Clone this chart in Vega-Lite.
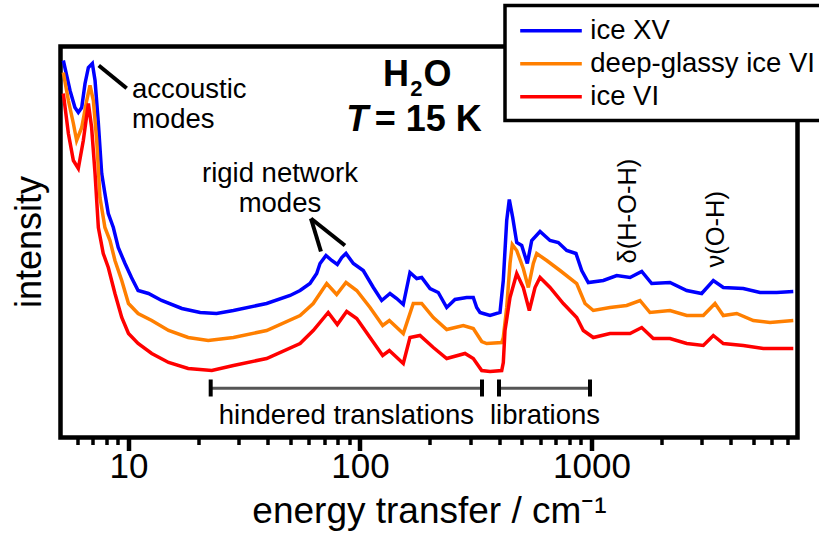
{
  "$schema": "https://vega.github.io/schema/vega-lite/v6.json",
  "width": 737,
  "height": 391,
  "autosize": {"type": "none"},
  "padding": {"left": 60.5, "top": 46.5, "right": 21.5, "bottom": 95.5},
  "background": "white",
  "config": {
    "font": "Liberation Sans",
    "view": {"stroke": "black", "strokeWidth": 4.5},
    "legend": {"strokeWidth": 3.5}
  },
  "datasets": {
    "spec": [
      {"E":5.23,"I":377,"s":"ice XV"},{"E":5.59,"I":347,"s":"ice XV"},{"E":5.87,"I":330,"s":"ice XV"},{"E":6.07,"I":325,"s":"ice XV"},{"E":6.28,"I":330,"s":"ice XV"},{"E":6.49,"I":354,"s":"ice XV"},{"E":6.71,"I":370,"s":"ice XV"},{"E":6.98,"I":374,"s":"ice XV"},{"E":7.17,"I":357,"s":"ice XV"},{"E":7.41,"I":314,"s":"ice XV"},{"E":7.66,"I":264,"s":"ice XV"},{"E":7.91,"I":244,"s":"ice XV"},{"E":8.18,"I":224,"s":"ice XV"},{"E":8.6,"I":210,"s":"ice XV"},{"E":9.03,"I":190,"s":"ice XV"},{"E":9.66,"I":174,"s":"ice XV"},{"E":10.3,"I":160,"s":"ice XV"},{"E":11,"I":147,"s":"ice XV"},{"E":12.2,"I":144,"s":"ice XV"},{"E":13.9,"I":137,"s":"ice XV"},{"E":17,"I":129,"s":"ice XV"},{"E":20.4,"I":125,"s":"ice XV"},{"E":24,"I":124,"s":"ice XV"},{"E":28.4,"I":127,"s":"ice XV"},{"E":39.5,"I":134,"s":"ice XV"},{"E":49.9,"I":142,"s":"ice XV"},{"E":55.1,"I":147,"s":"ice XV"},{"E":60.8,"I":154,"s":"ice XV"},{"E":65,"I":164,"s":"ice XV"},{"E":67.2,"I":174,"s":"ice XV"},{"E":71.3,"I":182,"s":"ice XV"},{"E":75.5,"I":177,"s":"ice XV"},{"E":79.8,"I":173,"s":"ice XV"},{"E":83.4,"I":180,"s":"ice XV"},{"E":87,"I":184,"s":"ice XV"},{"E":93.6,"I":174,"s":"ice XV"},{"E":103.3,"I":167,"s":"ice XV"},{"E":114.2,"I":150,"s":"ice XV"},{"E":124.1,"I":137,"s":"ice XV"},{"E":134.8,"I":144,"s":"ice XV"},{"E":144.1,"I":139,"s":"ice XV"},{"E":153.8,"I":133,"s":"ice XV"},{"E":164.4,"I":165,"s":"ice XV"},{"E":175.8,"I":159,"s":"ice XV"},{"E":184.7,"I":160,"s":"ice XV"},{"E":200.7,"I":149,"s":"ice XV"},{"E":217.8,"I":145,"s":"ice XV"},{"E":236.9,"I":130,"s":"ice XV"},{"E":257.3,"I":138,"s":"ice XV"},{"E":289,"I":140,"s":"ice XV"},{"E":308.6,"I":140,"s":"ice XV"},{"E":319.2,"I":130,"s":"ice XV"},{"E":329.9,"I":125,"s":"ice XV"},{"E":341,"I":124,"s":"ice XV"},{"E":364.5,"I":122,"s":"ice XV"},{"E":402.5,"I":125,"s":"ice XV"},{"E":415.9,"I":157,"s":"ice XV"},{"E":430.3,"I":217,"s":"ice XV"},{"E":441.5,"I":238,"s":"ice XV"},{"E":456.7,"I":220,"s":"ice XV"},{"E":475.3,"I":195,"s":"ice XV"},{"E":499.5,"I":192,"s":"ice XV"},{"E":528.2,"I":174,"s":"ice XV"},{"E":551.8,"I":197,"s":"ice XV"},{"E":599.3,"I":206,"s":"ice XV"},{"E":661.9,"I":197,"s":"ice XV"},{"E":718.9,"I":195,"s":"ice XV"},{"E":781.5,"I":187,"s":"ice XV"},{"E":857,"I":184,"s":"ice XV"},{"E":907.3,"I":167,"s":"ice XV"},{"E":968.7,"I":155,"s":"ice XV"},{"E":1125,"I":157,"s":"ice XV"},{"E":1285,"I":162,"s":"ice XV"},{"E":1467,"I":160,"s":"ice XV"},{"E":1648,"I":166,"s":"ice XV"},{"E":1820,"I":154,"s":"ice XV"},{"E":2183,"I":155,"s":"ice XV"},{"E":2578,"I":147,"s":"ice XV"},{"E":2992,"I":144,"s":"ice XV"},{"E":3359,"I":157,"s":"ice XV"},{"E":3710,"I":150,"s":"ice XV"},{"E":4525,"I":149,"s":"ice XV"},{"E":5345,"I":145,"s":"ice XV"},{"E":6310,"I":145,"s":"ice XV"},{"E":7442,"I":146,"s":"ice XV"},
      {"E":5.23,"I":365,"s":"deep-glassy ice VI"},{"E":5.5,"I":337,"s":"deep-glassy ice VI"},{"E":5.78,"I":314,"s":"deep-glassy ice VI"},{"E":5.97,"I":297,"s":"deep-glassy ice VI"},{"E":6.28,"I":310,"s":"deep-glassy ice VI"},{"E":6.6,"I":337,"s":"deep-glassy ice VI"},{"E":6.82,"I":352,"s":"deep-glassy ice VI"},{"E":7.05,"I":337,"s":"deep-glassy ice VI"},{"E":7.29,"I":297,"s":"deep-glassy ice VI"},{"E":7.53,"I":240,"s":"deep-glassy ice VI"},{"E":7.91,"I":210,"s":"deep-glassy ice VI"},{"E":8.32,"I":197,"s":"deep-glassy ice VI"},{"E":8.74,"I":177,"s":"deep-glassy ice VI"},{"E":9.35,"I":157,"s":"deep-glassy ice VI"},{"E":10,"I":134,"s":"deep-glassy ice VI"},{"E":11,"I":124,"s":"deep-glassy ice VI"},{"E":12.6,"I":117,"s":"deep-glassy ice VI"},{"E":14.9,"I":107,"s":"deep-glassy ice VI"},{"E":18.1,"I":100,"s":"deep-glassy ice VI"},{"E":22.1,"I":97,"s":"deep-glassy ice VI"},{"E":28.4,"I":100,"s":"deep-glassy ice VI"},{"E":39.5,"I":107,"s":"deep-glassy ice VI"},{"E":55.1,"I":122,"s":"deep-glassy ice VI"},{"E":62.8,"I":134,"s":"deep-glassy ice VI"},{"E":71.8,"I":154,"s":"deep-glassy ice VI"},{"E":79.3,"I":143,"s":"deep-glassy ice VI"},{"E":87,"I":155,"s":"deep-glassy ice VI"},{"E":96.8,"I":147,"s":"deep-glassy ice VI"},{"E":110.5,"I":130,"s":"deep-glassy ice VI"},{"E":125.3,"I":112,"s":"deep-glassy ice VI"},{"E":133.9,"I":117,"s":"deep-glassy ice VI"},{"E":153.8,"I":104,"s":"deep-glassy ice VI"},{"E":169.9,"I":134,"s":"deep-glassy ice VI"},{"E":184.7,"I":134,"s":"deep-glassy ice VI"},{"E":207.4,"I":120,"s":"deep-glassy ice VI"},{"E":236.9,"I":108,"s":"deep-glassy ice VI"},{"E":279.4,"I":112,"s":"deep-glassy ice VI"},{"E":308.6,"I":109,"s":"deep-glassy ice VI"},{"E":335.6,"I":96,"s":"deep-glassy ice VI"},{"E":352.7,"I":94,"s":"deep-glassy ice VI"},{"E":409.4,"I":95,"s":"deep-glassy ice VI"},{"E":416,"I":100,"s":"deep-glassy ice VI"},{"E":430.3,"I":130,"s":"deep-glassy ice VI"},{"E":444.6,"I":174,"s":"deep-glassy ice VI"},{"E":454.9,"I":193,"s":"deep-glassy ice VI"},{"E":475.3,"I":187,"s":"deep-glassy ice VI"},{"E":507.5,"I":169,"s":"deep-glassy ice VI"},{"E":533.5,"I":150,"s":"deep-glassy ice VI"},{"E":560.7,"I":174,"s":"deep-glassy ice VI"},{"E":580,"I":184,"s":"deep-glassy ice VI"},{"E":640.6,"I":177,"s":"deep-glassy ice VI"},{"E":731.1,"I":167,"s":"deep-glassy ice VI"},{"E":863.1,"I":154,"s":"deep-glassy ice VI"},{"E":937.6,"I":134,"s":"deep-glassy ice VI"},{"E":1018,"I":127,"s":"deep-glassy ice VI"},{"E":1202,"I":130,"s":"deep-glassy ice VI"},{"E":1419,"I":132,"s":"deep-glassy ice VI"},{"E":1620,"I":137,"s":"deep-glassy ice VI"},{"E":1789,"I":125,"s":"deep-glassy ice VI"},{"E":2183,"I":127,"s":"deep-glassy ice VI"},{"E":2578,"I":122,"s":"deep-glassy ice VI"},{"E":3041,"I":122,"s":"deep-glassy ice VI"},{"E":3416,"I":134,"s":"deep-glassy ice VI"},{"E":3710,"I":122,"s":"deep-glassy ice VI"},{"E":4240,"I":124,"s":"deep-glassy ice VI"},{"E":5000,"I":117,"s":"deep-glassy ice VI"},{"E":5904,"I":115,"s":"deep-glassy ice VI"},{"E":7442,"I":117,"s":"deep-glassy ice VI"},
      {"E":5.23,"I":344,"s":"ice VI"},{"E":5.5,"I":304,"s":"ice VI"},{"E":5.78,"I":277,"s":"ice VI"},{"E":6.07,"I":269,"s":"ice VI"},{"E":6.38,"I":297,"s":"ice VI"},{"E":6.71,"I":334,"s":"ice VI"},{"E":6.93,"I":310,"s":"ice VI"},{"E":7.17,"I":264,"s":"ice VI"},{"E":7.41,"I":210,"s":"ice VI"},{"E":7.78,"I":184,"s":"ice VI"},{"E":8.18,"I":170,"s":"ice VI"},{"E":8.74,"I":144,"s":"ice VI"},{"E":9.35,"I":120,"s":"ice VI"},{"E":10,"I":104,"s":"ice VI"},{"E":11,"I":94,"s":"ice VI"},{"E":12.6,"I":84,"s":"ice VI"},{"E":14.9,"I":75,"s":"ice VI"},{"E":18.1,"I":69,"s":"ice VI"},{"E":22.9,"I":67,"s":"ice VI"},{"E":28.4,"I":72,"s":"ice VI"},{"E":39.5,"I":79,"s":"ice VI"},{"E":55.1,"I":94,"s":"ice VI"},{"E":62.8,"I":107,"s":"ice VI"},{"E":72.9,"I":125,"s":"ice VI"},{"E":79.8,"I":113,"s":"ice VI"},{"E":87.6,"I":126,"s":"ice VI"},{"E":96.8,"I":119,"s":"ice VI"},{"E":110.5,"I":100,"s":"ice VI"},{"E":125.3,"I":82,"s":"ice VI"},{"E":133.9,"I":87,"s":"ice VI"},{"E":153.8,"I":74,"s":"ice VI"},{"E":164.4,"I":100,"s":"ice VI"},{"E":181.6,"I":102,"s":"ice VI"},{"E":207.4,"I":90,"s":"ice VI"},{"E":236.9,"I":79,"s":"ice VI"},{"E":284.2,"I":84,"s":"ice VI"},{"E":308.6,"I":79,"s":"ice VI"},{"E":335.6,"I":67,"s":"ice VI"},{"E":364.5,"I":66,"s":"ice VI"},{"E":409.4,"I":67,"s":"ice VI"},{"E":416,"I":75,"s":"ice VI"},{"E":423,"I":107,"s":"ice VI"},{"E":444.6,"I":140,"s":"ice VI"},{"E":475.3,"I":164,"s":"ice VI"},{"E":507.5,"I":150,"s":"ice VI"},{"E":538.8,"I":127,"s":"ice VI"},{"E":570.2,"I":150,"s":"ice VI"},{"E":599.3,"I":160,"s":"ice VI"},{"E":661.9,"I":150,"s":"ice VI"},{"E":755.5,"I":134,"s":"ice VI"},{"E":863.1,"I":120,"s":"ice VI"},{"E":921.9,"I":107,"s":"ice VI"},{"E":1018,"I":100,"s":"ice VI"},{"E":1202,"I":104,"s":"ice VI"},{"E":1467,"I":104,"s":"ice VI"},{"E":1648,"I":110,"s":"ice VI"},{"E":1849,"I":99,"s":"ice VI"},{"E":2183,"I":99,"s":"ice VI"},{"E":2578,"I":94,"s":"ice VI"},{"E":3041,"I":92,"s":"ice VI"},{"E":3359,"I":102,"s":"ice VI"},{"E":3710,"I":94,"s":"ice VI"},{"E":4525,"I":92,"s":"ice VI"},{"E":5523,"I":89,"s":"ice VI"},{"E":7442,"I":89,"s":"ice VI"}
    ],
    "blackLines": [
      {"x":7.44,"y":372,"x2":9.82,"y2":349.3},
      {"x":61.4,"y":219,"x2":67.8,"y2":186},
      {"x":61.4,"y":219,"x2":86.1,"y2":192},
      {"x":22.65,"y":58,"x2":22.65,"y2":41},
      {"x":336.5,"y":58,"x2":336.5,"y2":41},
      {"x":398.6,"y":58,"x2":398.6,"y2":41},
      {"x":985,"y":58,"x2":985,"y2":41}
    ],
    "greyLines": [
      {"x":22.65,"x2":336.5,"y":49.3},
      {"x":398.6,"x2":985,"y":49.3}
    ],
    "textLeft": [
      {"x":10.35,"y":339.7,"t":"accoustic"},
      {"x":10.35,"y":309.3,"t":"modes"}
    ],
    "textCenter": [
      {"x":45.1,"y":256,"t":"rigid network"},
      {"x":45.1,"y":225.3,"t":"modes"},
      {"x":87.4,"y":13.7,"t":"hindered translations"},
      {"x":629.8,"y":13.7,"t":"librations"}
    ],
    "textRot": [
      {"x":1438,"y":174,"t":"δ(H-O-H)"},
      {"x":3450,"y":170,"t":"ν(O-H)"}
    ]
  },
  "layer": [
    {
      "data": {"name": "spec"},
      "mark": {"type": "line", "strokeWidth": 3.5, "clip": true},
      "encoding": {
        "x": {
          "field": "E", "type": "quantitative",
          "scale": {"type": "log", "domain": [5.085, 7760], "nice": false},
          "axis": {
            "title": "energy transfer / cm⁻¹",
            "values": [6,7,8,9,10,20,30,40,50,60,70,80,90,100,200,300,400,500,600,700,800,900,1000,2000,3000,4000,5000,6000,7000],
            "format": "d",
            "labelExpr": "(datum.value === 10 || datum.value === 100 || datum.value === 1000) ? datum.label : ''",
            "domain": false,
            "grid": false,
            "tickColor": "black",
            "tickSize": {"condition": {"test": "datum.value === 10 || datum.value === 100 || datum.value === 1000", "value": 13}, "value": 7},
            "tickWidth": {"condition": {"test": "datum.value === 10 || datum.value === 100 || datum.value === 1000", "value": 4.5}, "value": 3.5},
            "labelFontSize": 35,
            "labelColor": "black",
            "labelBaseline": "alphabetic",
            "labelPadding": 27,
            "labelFlush": false,
            "labelOverlap": false,
            "titleFontSize": 37,
            "titleFontWeight": "normal",
            "titleColor": "black",
            "titleBaseline": "alphabetic",
            "titleY": 84.5
          }
        },
        "y": {
          "field": "I", "type": "quantitative",
          "scale": {"domain": [0, 391], "nice": false, "zero": false},
          "axis": {
            "title": "intensity",
            "labels": false,
            "ticks": false,
            "domain": false,
            "grid": false,
            "titleFontSize": 36,
            "titleFontWeight": "normal",
            "titleColor": "black",
            "titleBaseline": "alphabetic",
            "titleAlign": "center",
            "titleAngle": -90,
            "titleX": -20,
            "titleY": 195
          }
        },
        "color": {
          "field": "s", "type": "nominal",
          "scale": {"domain": ["ice XV", "deep-glassy ice VI", "ice VI"], "range": ["#0000ff", "#ff7f00", "#ff0000"]},
          "legend": {
            "orient": "none",
            "legendX": 444.5,
            "legendY": -41,
            "title": null,
            "strokeColor": "black",
            "fillColor": "white",
            "padding": 9.3,
            "symbolType": "M-2.2,0H2.2",
            "symbolSize": 784,
            "symbolStrokeWidth": 3.5,
            "symbolOffset": 20.7,
            "labelOffset": 23.3,
            "labelFontSize": 27.5,
            "labelBaseline": "middle",
            "labelColor": "black",
            "labelLimit": 400,
            "labelExpr": "datum.label + '  '",
            "rowPadding": 3
          }
        }
      }
    },
    {
      "data": {"name": "greyLines"},
      "mark": {"type": "rule", "color": "#555555", "strokeWidth": 3},
      "encoding": {
        "x": {"field": "x", "type": "quantitative"},
        "x2": {"field": "x2"},
        "y": {"field": "y", "type": "quantitative"}
      }
    },
    {
      "data": {"name": "blackLines"},
      "mark": {"type": "rule", "color": "black", "strokeWidth": 4},
      "encoding": {
        "x": {"field": "x", "type": "quantitative"},
        "x2": {"field": "x2"},
        "y": {"field": "y", "type": "quantitative"},
        "y2": {"field": "y2"}
      }
    },
    {
      "data": {"name": "textLeft"},
      "mark": {"type": "text", "fontSize": 27.5, "align": "left", "baseline": "alphabetic", "color": "black"},
      "encoding": {
        "x": {"field": "x", "type": "quantitative"},
        "y": {"field": "y", "type": "quantitative"},
        "text": {"field": "t"}
      }
    },
    {
      "data": {"name": "textCenter"},
      "mark": {"type": "text", "fontSize": 27.5, "align": "center", "baseline": "alphabetic", "color": "black"},
      "encoding": {
        "x": {"field": "x", "type": "quantitative"},
        "y": {"field": "y", "type": "quantitative"},
        "text": {"field": "t"}
      }
    },
    {
      "data": {"name": "textRot"},
      "mark": {"type": "text", "fontSize": 25.5, "align": "left", "baseline": "middle", "angle": 270, "color": "black"},
      "encoding": {
        "x": {"field": "x", "type": "quantitative"},
        "y": {"field": "y", "type": "quantitative"},
        "text": {"field": "t"}
      }
    },
    {
      "data": {"values": [{"x": 162.8, "y": 352, "t": "H"}]},
      "mark": {"type": "text", "fontSize": 36, "fontWeight": "bold", "align": "right", "baseline": "alphabetic", "color": "black"},
      "encoding": {
        "x": {"field": "x", "type": "quantitative"},
        "y": {"field": "y", "type": "quantitative"},
        "text": {"field": "t"}
      }
    },
    {
      "data": {"values": [{"x": 188.1, "y": 352, "t": "O"}, {"x": 115.7, "y": 306.3, "t": "= 15 K"}]},
      "mark": {"type": "text", "fontSize": 36, "fontWeight": "bold", "align": "left", "baseline": "alphabetic", "color": "black"},
      "encoding": {
        "x": {"field": "x", "type": "quantitative"},
        "y": {"field": "y", "type": "quantitative"},
        "text": {"field": "t"}
      }
    },
    {
      "data": {"values": [{"x": 175.3, "y": 342, "t": "2"}]},
      "mark": {"type": "text", "fontSize": 22, "fontWeight": "bold", "align": "center", "baseline": "alphabetic", "color": "black"},
      "encoding": {
        "x": {"field": "x", "type": "quantitative"},
        "y": {"field": "y", "type": "quantitative"},
        "text": {"field": "t"}
      }
    },
    {
      "data": {"values": [{"x": 87.3, "y": 306.3, "t": "T"}]},
      "mark": {"type": "text", "fontSize": 36, "fontWeight": "bold", "fontStyle": "italic", "align": "left", "baseline": "alphabetic", "color": "black"},
      "encoding": {
        "x": {"field": "x", "type": "quantitative"},
        "y": {"field": "y", "type": "quantitative"},
        "text": {"field": "t"}
      }
    }
  ]
}
